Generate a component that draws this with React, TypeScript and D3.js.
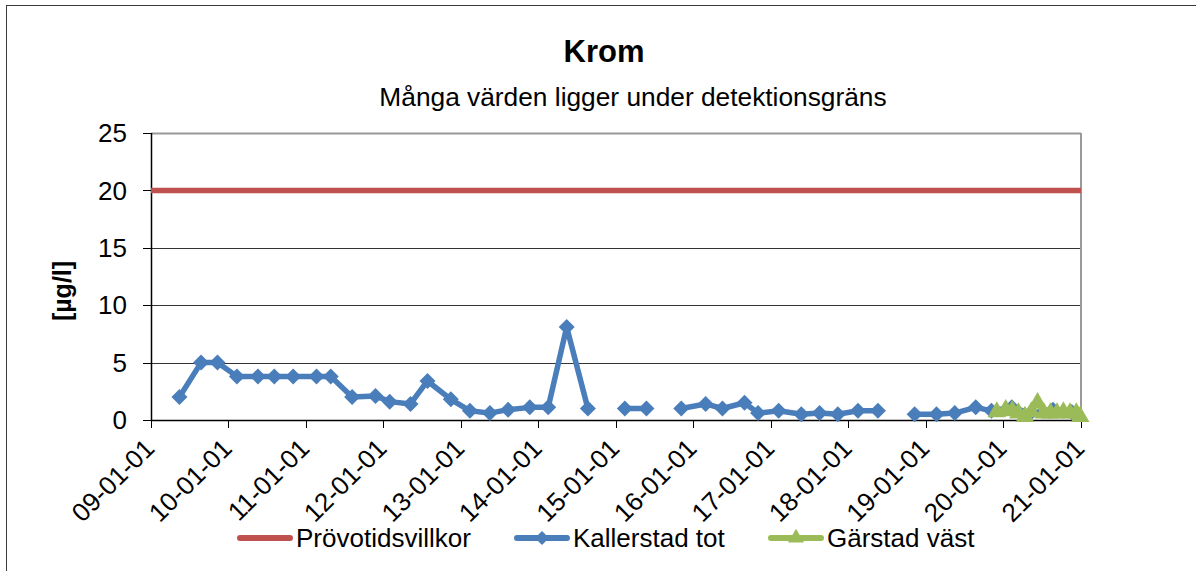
import React, { useEffect, useRef } from "react";
import * as d3 from "d3";

const title = "Krom";
const subtitle = "Många värden ligger under detektionsgräns";
const yLabel = "[µg/l]";

const limitDates = ["2009-01-01", "2021-01-01"];
const limitValues = [20, 20];

// null = break in the line
const kallerstadDates = [
  "2009-05-15", "2009-08-25", "2009-11-10", "2010-02-10", "2010-05-20", "2010-08-05",
  "2010-11-02", "2011-02-20", "2011-04-28", "2011-08-07", "2011-11-25", "2012-01-31",
  "2012-05-08", "2012-07-27", "2012-11-14", "2013-02-12", "2013-05-17", "2013-08-11",
  "2013-11-21", "2014-02-16", "2014-05-14", "2014-08-22", "2014-11-15", "2015-02-12",
  "2015-05-25", "2015-08-15", "2015-11-05", "2016-02-28", "2016-05-17", "2016-08-29",
  "2016-11-01", "2017-02-06", "2017-05-24", "2017-08-18", "2017-11-12", "2018-02-15",
  "2018-05-20", "2018-08-15", "2018-11-09", "2019-02-20", "2019-05-17", "2019-08-24",
  "2019-11-06", "2020-02-10", "2020-05-08", "2020-08-22", "2020-11-18",
];
const kallerstadValues = [
  2.0, 5.0, 5.0, 3.8, 3.8, 3.8,
  3.8, 3.8, 3.8, 2.0, 2.1, 1.6,
  1.4, 3.4, 1.8, 0.8, 0.6, 0.9,
  1.1, 1.1, 8.1, 1.0, null, 1.0,
  1.0, null, 1.0, 1.4, 1.0, 1.5,
  0.6, 0.8, 0.5, 0.6, 0.5, 0.8,
  0.8, null, 0.5, 0.5, 0.6, 1.1,
  0.8, 1.1, 0.6, 0.9, 0.7,
];

const garstadDates = [
  "2019-12-01", "2020-01-12", "2020-02-12", "2020-03-12", "2020-04-12", "2020-05-12",
  "2020-06-10", "2020-07-10", "2020-08-10", "2020-09-10", "2020-10-10", "2020-11-10",
  "2020-12-10", "2020-12-28",
];
const garstadValues = [0.7, 0.9, 0.8, 0.6, 0.3, 0.7, 1.5, 0.6, 0.6, 0.6, 0.7, 0.6, 0.6, 0.3];

const yTicks = [0, 5, 10, 15, 20, 25];
const xTickYears = d3.range(2009, 2022);

const legendItems = [
  { label: "Prövotidsvillkor", color: "#C0504D", marker: "none", x: 238 },
  { label: "Kallerstad tot", color: "#4A7EBB", marker: "diamond", x: 515 },
  { label: "Gärstad väst", color: "#9BBB59", marker: "triangle", x: 769 },
];

const font = "'Liberation Sans', Arial, sans-serif";

const diamondPath = (s: number) => `M0,${-s}L${s},0L0,${s}L${-s},0Z`;

const App = () => {
  const ref = useRef<SVGSVGElement | null>(null);

  useEffect(() => {
    const width = 1196;
    const height = 571;
    const left = 151;
    const right = 1081;
    const top = 133;
    const bottom = 420;

    const svg = d3.select(ref.current).attr("width", width).attr("height", height);
    svg.selectAll("*").remove();

    const parse = d3.timeParse("%Y-%m-%d");
    const x = d3
      .scaleTime()
      .domain([new Date(2009, 0, 1), new Date(2021, 0, 1)])
      .range([left, right]);
    const y = d3.scaleLinear().domain([0, 25]).range([bottom, top]);

    svg.append("rect").attr("width", width).attr("height", height).attr("fill", "#fff");

    // outer frame (only left/top visible)
    svg
      .append("rect")
      .attr("x", 6.5)
      .attr("y", 5.5)
      .attr("width", width + 20)
      .attr("height", height + 20)
      .attr("fill", "none")
      .attr("stroke", "#3a3a3a")
      .attr("stroke-width", 1);

    svg
      .append("text")
      .attr("x", 604)
      .attr("y", 62)
      .attr("text-anchor", "middle")
      .style("font-family", font)
      .style("font-size", "31px")
      .style("font-weight", "bold")
      .text(title);

    svg
      .append("text")
      .attr("x", 633)
      .attr("y", 106)
      .attr("text-anchor", "middle")
      .style("font-family", font)
      .style("font-size", "26.3px")
      .text(subtitle);

    // gridlines
    svg
      .append("g")
      .selectAll("line")
      .data(yTicks.filter((d) => d > 0))
      .enter()
      .append("line")
      .attr("x1", left)
      .attr("x2", right)
      .attr("y1", (d) => Math.round(y(d)) + 0.5)
      .attr("y2", (d) => Math.round(y(d)) + 0.5)
      .attr("stroke", (d) => (d === 25 ? "#999" : "#333"))
      .attr("stroke-width", (d) => (d === 25 ? 2 : 1));

    // plot area right border
    svg
      .append("line")
      .attr("x1", right)
      .attr("x2", right)
      .attr("y1", top)
      .attr("y2", bottom)
      .attr("stroke", "#999")
      .attr("stroke-width", 2);

    // y axis
    svg
      .append("line")
      .attr("x1", left + 0.5)
      .attr("x2", left + 0.5)
      .attr("y1", top)
      .attr("y2", bottom)
      .attr("stroke", "#000")
      .attr("stroke-width", 1.5);

    const yt = svg.append("g").selectAll("g").data(yTicks).enter().append("g");
    yt.append("line")
      .attr("x1", left - 8)
      .attr("x2", left)
      .attr("y1", (d) => Math.round(y(d)) + 0.5)
      .attr("y2", (d) => Math.round(y(d)) + 0.5)
      .attr("stroke", "#000");
    yt.append("text")
      .attr("x", 127)
      .attr("y", (d) => y(d))
      .attr("dy", "0.35em")
      .attr("text-anchor", "end")
      .style("font-family", font)
      .style("font-size", "26px")
      .text((d) => d);

    svg
      .append("text")
      .attr("transform", `translate(71, 291) rotate(-90)`)
      .attr("text-anchor", "middle")
      .style("font-family", font)
      .style("font-size", "25px")
      .style("font-weight", "bold")
      .text(yLabel);

    // x axis
    svg
      .append("line")
      .attr("x1", left)
      .attr("x2", right)
      .attr("y1", bottom + 0.5)
      .attr("y2", bottom + 0.5)
      .attr("stroke", "#000")
      .attr("stroke-width", 1.5);

    const fmt = d3.timeFormat("%y-%m-%d");
    const xt = svg
      .append("g")
      .selectAll("g")
      .data(xTickYears.map((yr) => new Date(yr, 0, 1)))
      .enter()
      .append("g");
    xt.append("line")
      .attr("x1", (d) => Math.round(x(d)) + 0.5)
      .attr("x2", (d) => Math.round(x(d)) + 0.5)
      .attr("y1", bottom)
      .attr("y2", bottom + 8)
      .attr("stroke", "#000");
    xt.append("text")
      .attr("transform", (d) => `translate(${x(d) + 5}, 450) rotate(-45)`)
      .attr("text-anchor", "end")
      .style("font-family", font)
      .style("font-size", "26px")
      .text((d) => fmt(d));

    // series
    const limit = limitDates.map((d, i) => ({ date: parse(d) as Date, value: limitValues[i] }));
    const kallerstad = kallerstadDates.map((d, i) => ({ date: parse(d) as Date, value: kallerstadValues[i] }));
    const garstad = garstadDates.map((d, i) => ({ date: parse(d) as Date, value: garstadValues[i] }));

    const line = d3
      .line<{ date: Date; value: number | null }>()
      .defined((d) => d.value !== null)
      .x((d) => x(d.date))
      .y((d) => y(d.value as number));

    svg
      .append("path")
      .datum(limit)
      .attr("d", line)
      .attr("fill", "none")
      .attr("stroke", "#C0504D")
      .attr("stroke-width", 5.5);

    svg
      .append("path")
      .datum(kallerstad)
      .attr("d", line)
      .attr("fill", "none")
      .attr("stroke", "#4A7EBB")
      .attr("stroke-width", 5.5)
      .attr("stroke-linejoin", "round");

    svg
      .append("g")
      .selectAll("path")
      .data(kallerstad.filter((d) => d.value !== null))
      .enter()
      .append("path")
      .attr("transform", (d) => `translate(${x(d.date)}, ${y(d.value as number)})`)
      .attr("d", diamondPath(8))
      .attr("fill", "#4A7EBB");

    svg
      .append("path")
      .datum(garstad)
      .attr("d", line)
      .attr("fill", "none")
      .attr("stroke", "#9BBB59")
      .attr("stroke-width", 5.5)
      .attr("stroke-linejoin", "round");

    const tri = d3.symbol().type(d3.symbolTriangle).size(150);
    svg
      .append("g")
      .selectAll("path")
      .data(garstad)
      .enter()
      .append("path")
      .attr("transform", (d) => `translate(${x(d.date)}, ${y(d.value)})`)
      .attr("d", tri)
      .attr("fill", "#9BBB59");

    // legend
    const legendTri = d3.symbol().type(d3.symbolTriangle).size(110);
    const lg = svg.append("g").selectAll("g").data(legendItems).enter().append("g");
    lg.append("line")
      .attr("x1", (d) => d.x + 2)
      .attr("x2", (d) => d.x + 52)
      .attr("y1", 538)
      .attr("y2", 538)
      .attr("stroke", (d) => d.color)
      .attr("stroke-width", 6)
      .attr("stroke-linecap", "round");
    lg.filter((d) => d.marker === "diamond")
      .append("path")
      .attr("transform", (d) => `translate(${d.x + 27}, 538)`)
      .attr("d", diamondPath(7))
      .attr("fill", (d) => d.color);
    lg.filter((d) => d.marker === "triangle")
      .append("path")
      .attr("transform", (d) => `translate(${d.x + 27}, 538)`)
      .attr("d", legendTri)
      .attr("fill", (d) => d.color);
    lg.append("text")
      .attr("x", (d) => d.x + 58)
      .attr("y", 538)
      .attr("dy", "0.35em")
      .style("font-family", font)
      .style("font-size", "26px")
      .text((d) => d.label);

    return () => {
      d3.select(ref.current).selectAll("*").remove();
    };
  }, []);

  return (
    <svg
      ref={ref}
      style={{ position: "absolute", left: 0, top: 0, display: "block" }}
    ></svg>
  );
};

export default App;
